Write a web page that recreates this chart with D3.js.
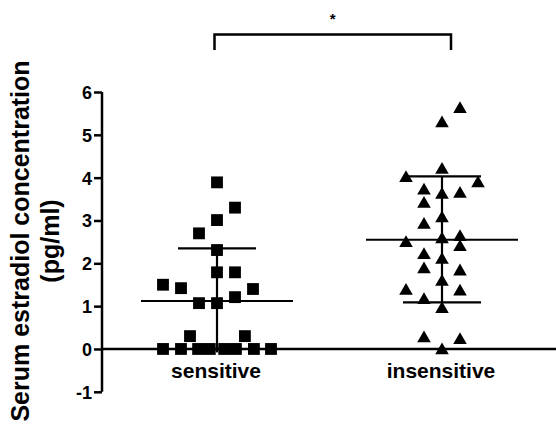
<!DOCTYPE html>
<html>
<head>
<meta charset="utf-8">
<script src="https://cdn.jsdelivr.net/npm/d3@7"></script>
<style>
  body { margin: 0; background: #fff; }
  svg text { font-family: "Liberation Sans", Arial, sans-serif; fill: #000; }
  .y-axis text { font-size: 18px; font-weight: bold; }
</style>
</head>
<body>
<svg id="chart"></svg>
<script>
const groups = ['sensitive', 'insensitive'],
yTicks = [-1, 0, 1, 2, 3, 4, 5, 6];

// [value, column slot]
const sensitive = [
  [3.89, 0], [3.30, 1], [3.01, 0], [2.70, -1], [2.31, 0], [1.79, 0], [1.79, 1],
  [1.50, -3], [1.42, -2], [1.40, 2], [1.21, 1], [1.07, -1], [1.07, 0],
  [0.30, -1.5], [0.30, 1.55],
  [0, -3], [0, -2], [0, -1.05], [0, -0.4], [0, 0.4], [0, 1.05], [0, 2.05], [0, 3]
];
const insensitive = [
  [5.60, 1], [5.27, 0], [4.18, 0], [3.99, -2], [3.87, 2], [3.70, -1], [3.60, 0],
  [3.62, 1], [3.39, -1], [3.05, 0], [2.90, -1], [2.47, -2], [2.56, 0], [2.61, 1],
  [2.38, 1], [2.19, -1], [2.08, 0], [1.86, -1], [1.81, 1], [1.57, 0], [1.36, -2],
  [1.34, 1], [1.14, -1], [0.93, 0], [0.25, -1], [0.21, 1], [-0.03, 0]
];
const means = [1.12, 2.55],
sdHigh = [2.35, 4.03],
sdLow = [-0.08, 1.09];

const width = 556, height = 428;

const svg = d3.select('#chart')
  .attr('width', width)
  .attr('height', height);

const y = d3.scaleLinear()
  .domain([-1, 6])
  .range([391.8, 92]);

const x = d3.scaleOrdinal()
  .domain(groups)
  .range([217, 442]);

const slot = d3.scaleLinear()
  .domain([0, 1])
  .range([0, 18]);

// y axis
const yAxis = svg.append('g')
  .attr('class', 'y-axis')
  .attr('transform', 'translate(102,0)')
  .call(d3.axisLeft(y).tickValues(yTicks).tickSize(8).tickPadding(2).tickFormat((d) => String(d)));
yAxis.select('.domain').attr('stroke-width', 2.5).attr('d', `M0,${y(-1)}V${y(6)}`);
yAxis.selectAll('.tick line').attr('stroke-width', 2.5);
yAxis.selectAll('.tick text').attr('dy', '0.36em');

// zero line
svg.append('line')
  .attr('x1', 102).attr('x2', width)
  .attr('y1', y(0)).attr('y2', y(0))
  .attr('stroke', '#000')
  .attr('stroke-width', 2.5);

// axis title
const title = svg.append('text')
  .attr('transform', `translate(29,${241}) rotate(-90)`)
  .attr('text-anchor', 'middle')
  .style('font-size', '25px')
  .style('font-weight', 'bold');
title.append('tspan').attr('x', 0).attr('y', 0).text('Serum estradiol concentration');
title.append('tspan').attr('x', 0).attr('y', 30).text('(pg/ml)');

// group labels
svg.append('g')
  .selectAll('text')
  .data(groups)
  .enter().append('text')
  .attr('x', (d) => x(d) - 1)
  .attr('y', 378)
  .attr('text-anchor', 'middle')
  .style('font-size', '21px')
  .style('font-weight', 'bold')
  .text((d) => d);

// mean and SD
const stats = svg.append('g').attr('stroke', '#000').attr('stroke-width', 2.2);
groups.forEach((g, i) => {
  const cx = x(g);
  stats.append('line').attr('x1', cx - 76).attr('x2', cx + 76).attr('y1', y(means[i])).attr('y2', y(means[i]));
  stats.append('line').attr('x1', cx).attr('x2', cx).attr('y1', y(sdHigh[i])).attr('y2', y(sdLow[i]));
  stats.append('line').attr('x1', cx - 39).attr('x2', cx + 39).attr('y1', y(sdHigh[i])).attr('y2', y(sdHigh[i]));
  if (sdLow[i] > 0) {
    stats.append('line').attr('x1', cx - 39).attr('x2', cx + 39).attr('y1', y(sdLow[i])).attr('y2', y(sdLow[i]));
  }
});

// points
svg.append('g')
  .selectAll('path')
  .data(sensitive)
  .enter().append('path')
  .attr('d', d3.symbol().type(d3.symbolSquare).size(140))
  .attr('transform', (d) => `translate(${x('sensitive') + slot(d[1])},${y(d[0])})`)
  .attr('fill', '#000');

svg.append('g')
  .selectAll('path')
  .data(insensitive)
  .enter().append('path')
  .attr('d', d3.symbol().type(d3.symbolTriangle).size(80))
  .attr('transform', (d) => `translate(${x('insensitive') + slot(d[1])},${y(d[0])})`)
  .attr('fill', '#000');

// significance bracket
const bl = x('sensitive') - 2.5, br = x('insensitive') + 9;
svg.append('path')
  .attr('d', `M${bl},50V34.5H${br}V50`)
  .attr('fill', 'none')
  .attr('stroke', '#000')
  .attr('stroke-width', 2.5);

svg.append('text')
  .attr('x', (bl + br) / 2)
  .attr('y', 24)
  .attr('text-anchor', 'middle')
  .style('font-size', '15px')
  .style('font-weight', 'bold')
  .text('*');
</script>
</body>
</html>
